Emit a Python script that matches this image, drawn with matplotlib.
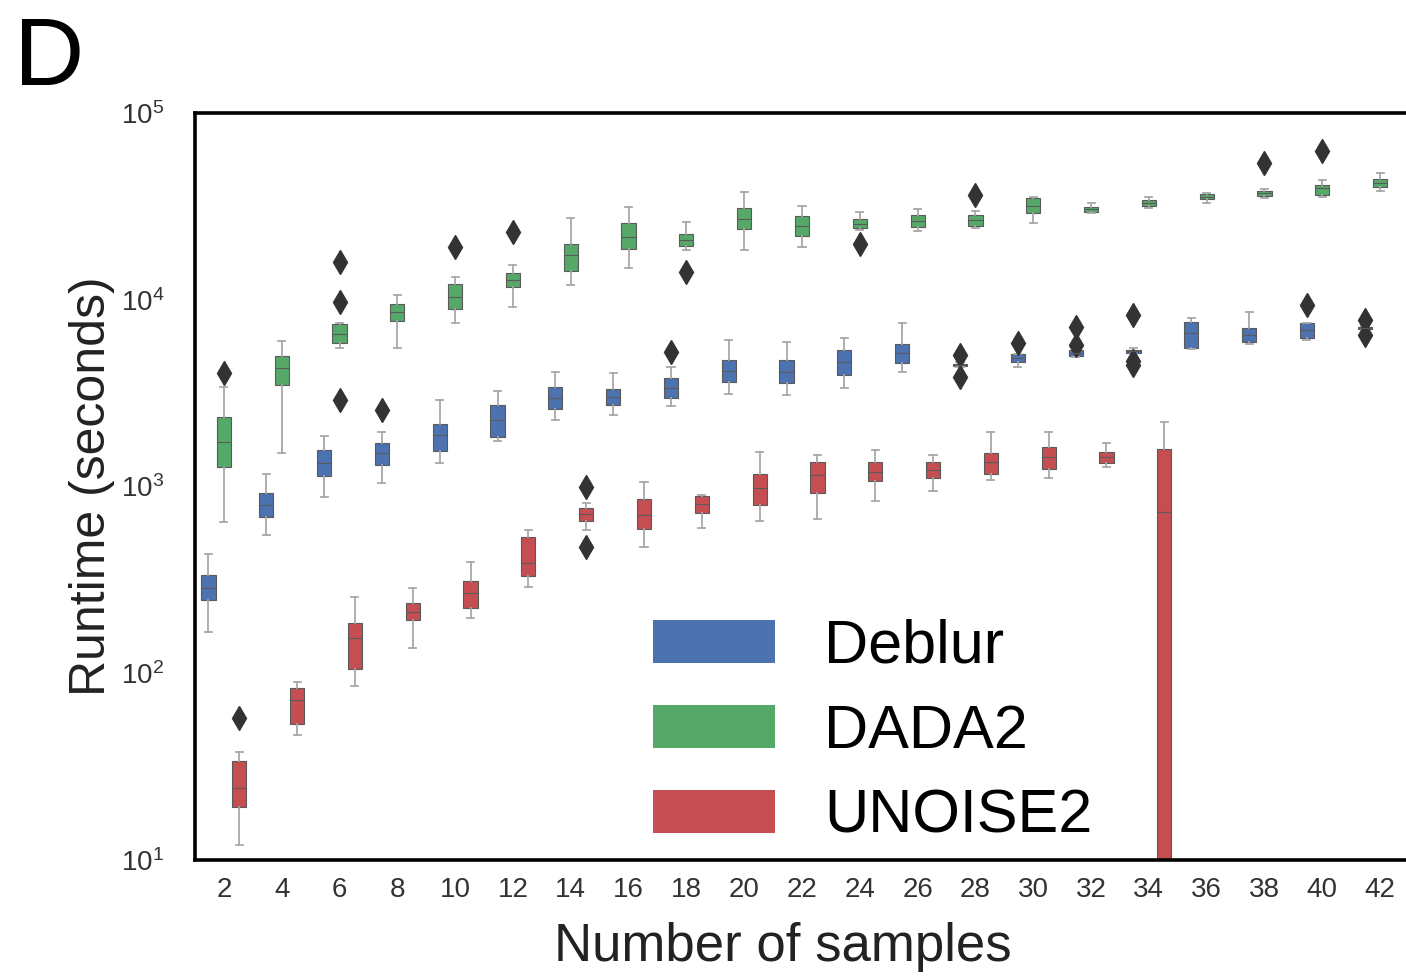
import matplotlib
matplotlib.use('Agg')
import matplotlib.pyplot as plt
from matplotlib.patches import Patch

plt.rcParams['font.family'] = ['Liberation Sans', 'DejaVu Sans']
plt.rcParams['mathtext.default'] = 'regular'

# Number of samples (x categories)
SAMPLES = [2, 4, 6, 8, 10, 12, 14, 16, 18, 20, 22, 24, 26, 28, 30, 32, 34, 36, 38, 40, 42]

# Deblur runtime box stats (seconds)
DEBLUR_LO = [166, 548, 876, 1044, 1336, 1753, 2270, 2415, 2698, 3128, 3090,
             3367, 4103, 4350, 4365, 4950, 5100, 5450, 5796, 6081, 6900]
DEBLUR_Q1 = [246, 684, 1138, 1304, 1549, 1841, 2600, 2729, 2978, 3622, 3581,
             3954, 4585, 4400, 4645, 5000, 5200, 5550, 5940, 6237, 7000]
DEBLUR_MED = [285, 794, 1336, 1511, 1888, 2270, 2978, 3013, 3367, 4150, 4100,
              4645, 5189, 4480, 4878, 5190, 5300, 6600, 6475, 6880, 7060]
DEBLUR_Q3 = [335, 921, 1568, 1710, 2161, 2731, 3411, 3324, 3808, 4753, 4753,
             5380, 5796, 4550, 5129, 5380, 5400, 7600, 7060, 7510, 7150]
DEBLUR_HI = [434, 1167, 1864, 1958, 2906, 3245, 4103, 4053, 4365, 6081, 5940,
             6237, 7510, 4650, 5129, 5450, 5500, 8000, 8610, 7510, 7250]
DEBLUR_FLIERS = [[], [], [], [2569], [], [], [], [], [5248], [], [],
                 [], [], [5050, 3850], [5866], [7145, 5728], [8300, 4700, 4450],
                 [], [], [9370], [7790, 6475]]

# DADA2 runtime box stats (seconds)
DADA2_LO = [644, 1511, 5521, 5521, 7510, 9140, 11990, 14790, 18460, 18460, 19150,
            23620, 23340, 24200, 25760, 29110, 30970, 32960, 35060, 35500, 38190]
DADA2_Q1 = [1271, 3494, 5866, 7690, 8920, 11700, 14250, 18690, 19410, 23920, 21940,
            24200, 24490, 24830, 29110, 29510, 31770, 34600, 35950, 36390, 40180]
DADA2_MED = [1730, 4310, 6558, 8610, 10350, 12760, 17370, 21680, 20890, 27040, 24830,
             25420, 26390, 26720, 31770, 30600, 32960, 35500, 37250, 39650, 42170]
DADA2_Q3 = [2356, 5000, 7410, 9490, 12140, 13900, 19890, 25760, 22490, 30970, 28060,
            27040, 28400, 28400, 35060, 31380, 34200, 36810, 38190, 41110, 44360]
DADA2_HI = [3400, 6010, 7510, 10600, 13240, 15350, 27400, 31380, 26060, 37750, 31770,
            29510, 30600, 29850, 35500, 32960, 35500, 37250, 39180, 43750, 47750]
DADA2_FLIERS = [[4053], [], [15930, 9727, 2906], [], [19150], [23060], [], [], [14090], [], [],
                [19890], [], [36360], [], [], [], [], [53950], [62520], []]

# UNOISE2 runtime box stats (seconds); None = no data
UNOISE2_LO = [12.0, 46.7, 85.5, 136, 197, 289, 583, 473, 598, 652, 668,
              834, 944, 1084, 1111, 1271, 1, None, None, None, None]
UNOISE2_Q1 = [19.2, 53.5, 105, 192, 223, 331, 652, 590, 719, 794, 921,
              1070, 1111, 1167, 1241, 1336, 3, None, None, None, None]
UNOISE2_MED = [24.3, 71.9, 154, 212, 268, 388, 711, 702, 804, 982, 1152,
               1196, 1225, 1352, 1439, 1439, 730, None, None, None, None]
UNOISE2_Q3 = [33.9, 83.4, 185, 237, 311, 535, 766, 855, 887, 1167, 1352,
              1352, 1352, 1511, 1628, 1531, 1588, None, None, None, None]
UNOISE2_HI = [37.9, 89.8, 255, 285, 393, 583, 814, 1057, 898, 1531, 1474,
              1568, 1474, 1958, 1958, 1710, 2218, None, None, None, None]
UNOISE2_FLIERS = [[57.6], [], [], [], [], [], [990, 473], [], [], [], [],
                  [], [], [], [], [], [], [], [], [], []]

COLORS = ['#4C72B0', '#55A868', '#C44E52']
NAMES = ['Deblur', 'DADA2', 'UNOISE2']


def make_stats(lo, q1, med, q3, hi, fliers):
    """Build bxp stats list, skipping missing categories."""
    stats, idx = [], []
    for i in range(len(med)):
        if med[i] is None:
            continue
        stats.append(dict(whislo=lo[i], q1=q1[i], med=med[i], q3=q3[i],
                          whishi=hi[i], fliers=fliers[i]))
        idx.append(i)
    return stats, idx


series = [
    (DEBLUR_LO, DEBLUR_Q1, DEBLUR_MED, DEBLUR_Q3, DEBLUR_HI, DEBLUR_FLIERS),
    (DADA2_LO, DADA2_Q1, DADA2_MED, DADA2_Q3, DADA2_HI, DADA2_FLIERS),
    (UNOISE2_LO, UNOISE2_Q1, UNOISE2_MED, UNOISE2_Q3, UNOISE2_HI, UNOISE2_FLIERS),
]

fig = plt.figure(figsize=(14.06, 9.77), dpi=100)
ax = fig.add_axes([195 / 1406, 1 - 860 / 977, 1214 / 1406, 747 / 977])

width = 0.8 / 3
for k, arrays in enumerate(series):
    stats, idx = make_stats(*arrays)
    pos = [i + (k - 1) * width for i in idx]
    ax.bxp(stats, positions=pos, widths=width * 0.92, patch_artist=True,
           boxprops=dict(facecolor=COLORS[k], edgecolor='#5a5a5a', linewidth=0.8),
           whiskerprops=dict(color='#a8a8a8', linewidth=1.3),
           capprops=dict(color='#a8a8a8', linewidth=1.3),
           medianprops=dict(color='#5a5a5a', linewidth=0.8),
           flierprops=dict(marker='d', markerfacecolor='#333333',
                           markeredgecolor='#333333', markersize=12))

ax.set_yscale('log')
ax.set_ylim(10, 1e5)
ax.set_xlim(-0.5, 20.5)
ax.set_xticks(range(len(SAMPLES)))
ax.set_xticklabels([str(s) for s in SAMPLES])
ax.minorticks_off()
ax.set_yticks([10, 100, 1000, 10000, 100000])
ax.tick_params(axis='x', length=0, pad=12, labelsize=20, colors='#333333')
ax.tick_params(axis='y', length=0, pad=22, labelsize=20, colors='#333333')

for sp in ax.spines.values():
    sp.set_linewidth(2.6)
    sp.set_color('black')

ax.set_xlabel('Number of samples', fontsize=38, color='#222222')
ax.xaxis.set_label_coords((783 - 195) / 1214, -0.083)
ax.set_ylabel('Runtime (seconds)', fontsize=36, color='#222222', labelpad=4)

handles = [Patch(facecolor=c, edgecolor='none', label=n) for c, n in zip(COLORS, NAMES)]
ax.legend(handles=handles, loc='center', bbox_to_anchor=(0.558, 0.171),
          frameon=False, fontsize=44, handlelength=2.0, handleheight=0.7,
          handletextpad=0.8, labelspacing=0.46)

fig.text(0.01, 0.985, 'D', fontsize=70, ha='left', va='top')

fig.savefig('out.png', dpi=100)
